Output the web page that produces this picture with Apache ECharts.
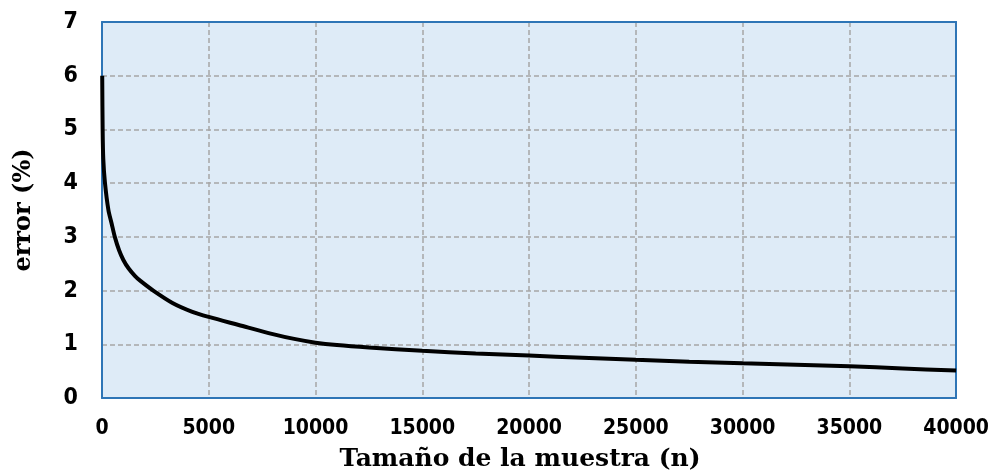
<!DOCTYPE html>
<html>
<head>
<meta charset="utf-8">
<script src="https://cdn.jsdelivr.net/npm/echarts@6/dist/echarts.min.js"></script>
<style>html,body{margin:0;padding:0;background:#fff}#c{width:992px;height:475px}</style>
</head>
<body>
<div id="c"></div>
<script>
const sampleSizes = [10, 30, 60, 140, 300, 450, 600, 800, 1000, 1250, 1550, 1800, 2400, 3300, 4200, 5000, 6400, 8000, 9000, 10000, 11000, 12500, 15000, 17500, 20000, 22500, 25000, 27500, 30000, 32500, 35000, 37500, 40000];
const errorValues = [6.0, 5.0, 4.45, 4.0, 3.5, 3.25, 3.0, 2.75, 2.57, 2.41, 2.27, 2.18, 2.0, 1.77, 1.61, 1.51, 1.36, 1.19, 1.10, 1.03, 0.985, 0.94, 0.88, 0.83, 0.79, 0.75, 0.71, 0.675, 0.645, 0.62, 0.59, 0.55, 0.51];
const xTicks = {min: 0, max: 40000, step: 5000};
const yTicks = {min: 0, max: 7, step: 1};
const xTitle = 'Tamaño de la muestra (n)';
const yTitle = 'error (%)';

const chart = echarts.init(document.getElementById('c'), null, {renderer: 'canvas'});
const labelFont = {fontFamily: '"Liberation Sans Narrow", "Arial Narrow", "DejaVu Sans Condensed", "Liberation Sans", sans-serif', fontWeight: 'bold', color: '#000'};
const gridLine = {show: true, showMinLine: false, showMaxLine: false, lineStyle: {color: '#A6A6A6', width: 1.5, type: [5, 3]}};
const frame = {show: true, onZero: false, lineStyle: {color: '#2E75B6', width: 2}};
chart.setOption({
  animation: false,
  title: {
    text: xTitle, left: 515, top: 442, textAlign: 'center',
    textStyle: {fontFamily: '"DejaVu Serif", serif', fontWeight: 'bold', fontSize: 25, color: '#000'}
  },
  grid: {left: 102, right: 32, top: 22, bottom: 77, show: true, backgroundColor: '#DEEBF7', borderWidth: 0, containLabel: false},
  xAxis: [{
    type: 'value', min: xTicks.min, max: xTicks.max, interval: xTicks.step,
    axisLine: frame, axisTick: {show: false}, splitLine: gridLine,
    axisLabel: Object.assign({fontSize: 21, margin: 20, formatter: v => String(v)}, labelFont)
  }, {
    type: 'value', position: 'top', min: xTicks.min, max: xTicks.max, interval: xTicks.step,
    axisLine: frame, axisTick: {show: false}, axisLabel: {show: false}, splitLine: {show: false}
  }],
  yAxis: [{
    type: 'value', min: yTicks.min, max: yTicks.max, interval: yTicks.step,
    name: yTitle, nameLocation: 'middle', nameGap: 66,
    nameTextStyle: {fontFamily: '"DejaVu Serif", serif', fontWeight: 'bold', fontSize: 24, color: '#000'},
    axisLine: frame, axisTick: {show: false}, splitLine: gridLine,
    axisLabel: Object.assign({fontSize: 23, margin: 24}, labelFont)
  }, {
    type: 'value', position: 'right', min: yTicks.min, max: yTicks.max, interval: yTicks.step,
    axisLine: frame, axisTick: {show: false}, axisLabel: {show: false}, splitLine: {show: false}
  }],
  series: [{
    type: 'line', data: sampleSizes.map((n, i) => [n, errorValues[i]]),
    smooth: 0.3, showSymbol: false, lineStyle: {color: '#000', width: 4}, z: 3
  }]
});
</script>
</body>
</html>
